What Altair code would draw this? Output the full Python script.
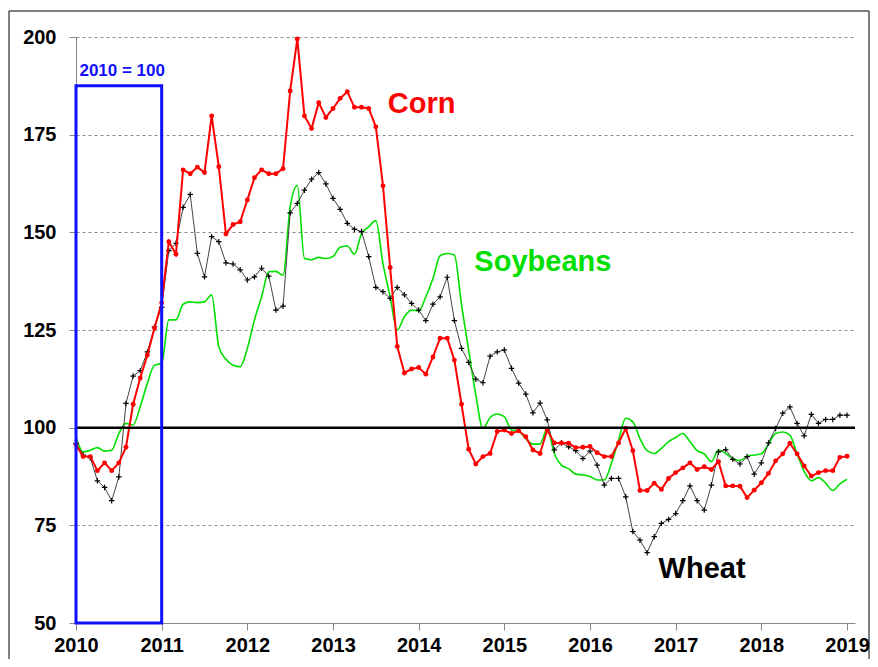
import altair as alt
import pandas as pd

# Monthly index values, Jan 2010 .. Jan 2019 (2010 = 100)
months = [2010 + i / 12 for i in range(109)]

corn = [
    95.6, 92.6, 92.6, 89.0, 91.0, 89.0, 91.0, 95.0, 106.0, 112.7, 118.6, 125.5,
    132.0, 147.6, 144.4, 166.0, 165.0, 166.7, 165.3, 179.8, 166.8, 149.6, 152.0, 152.7,
    158.3, 164.0, 166.0, 165.0, 165.0, 166.3, 186.2, 199.5, 179.8, 176.6, 183.2, 179.4,
    181.7, 184.3, 186.0, 182.0, 182.0, 181.7, 177.0, 161.9, 141.0, 120.8, 114.0, 115.0,
    115.4, 113.7, 118.1, 122.9, 122.9, 117.3, 106.0, 94.5, 90.7, 92.6, 93.4, 99.0,
    99.4, 98.5, 99.2, 97.7, 94.3, 93.4, 99.4, 96.1, 96.1, 96.0, 94.9, 95.0,
    95.2, 93.6, 92.6, 92.6, 96.1, 99.8, 94.1, 83.9, 83.9, 85.8, 84.2, 87.0,
    88.5, 89.7, 91.0, 89.3, 90.0, 89.3, 91.3, 85.1, 85.1, 85.0, 82.1, 84.0,
    85.9, 88.3, 91.5, 93.3, 96.0, 93.3, 90.2, 87.6, 88.5, 89.0, 89.0, 92.4,
    92.7,
]

wheat = [
    96.0, 93.0, 92.3, 86.4, 84.7, 81.3, 87.4, 106.2, 113.2, 114.6, 119.4, 125.8,
    130.8, 145.3, 147.2, 156.4, 159.7, 144.6, 138.6, 148.9, 147.6, 142.2, 141.9, 140.4,
    137.8, 138.6, 140.8, 138.8, 130.1, 131.1, 155.0, 157.4, 160.8, 163.6, 165.3, 162.4,
    158.7, 155.9, 152.3, 150.8, 150.2, 143.8, 135.9, 134.8, 133.1, 135.9, 134.0, 131.8,
    130.1, 127.4, 131.6, 133.5, 138.5, 127.4, 120.3, 116.7, 112.4, 111.5, 118.3, 119.4,
    119.9, 115.2, 111.4, 108.6, 103.8, 106.3, 102.0, 94.3, 96.1, 95.1, 94.1, 92.1,
    94.0, 90.4, 85.3, 87.0, 87.0, 82.3, 73.4, 71.2, 68.0, 72.1, 75.5, 76.5,
    78.0, 81.3, 85.1, 81.3, 78.9, 85.3, 93.8, 94.4, 91.9, 90.7, 92.6, 88.1,
    91.0, 96.1, 99.8, 103.7, 105.3, 101.1, 97.9, 103.4, 101.1, 102.1, 102.1, 103.2,
    103.2,
]

soybeans = [
    97.7, 93.8, 94.2, 94.9, 94.0, 94.2, 98.5, 101.1, 100.7, 105.4, 111.4, 116.0,
    116.5, 127.6, 127.6, 131.6, 132.2, 132.0, 132.2, 134.0, 120.7, 117.5, 116.0, 115.6,
    120.3, 127.6, 133.5, 139.9, 140.0, 139.0, 156.5, 162.0, 143.3, 143.0, 143.6, 143.3,
    143.8, 146.2, 146.5, 144.4, 149.7, 151.4, 153.0, 142.0, 133.5, 125.0, 128.4, 130.1,
    129.9, 133.5, 138.2, 144.0, 144.6, 144.2, 131.4, 119.9, 108.4, 99.8, 102.6, 103.5,
    102.8, 99.4, 99.2, 97.2, 95.8, 95.8, 99.8, 93.4, 90.4, 89.5, 88.1, 87.9,
    87.5, 86.6, 86.6, 90.9, 96.8, 102.4, 101.5, 97.2, 94.1, 93.4, 94.7, 96.4,
    97.5, 98.5, 96.4, 94.1, 93.3, 91.3, 94.3, 93.4, 92.1, 91.6, 92.7, 93.0,
    93.3, 95.8, 98.5, 98.9, 98.1, 93.3, 88.8, 86.4, 87.2, 85.8, 83.9, 85.6,
    86.8,
]

x_ticks = list(range(2010, 2020))
y_ticks = [50, 75, 100, 125, 150, 175, 200]

label_text = ["Corn", "Soybeans", "Wheat"]
label_x = [2013.64, 2014.65, 2016.8]
label_y = [182.8, 142.4, 63.8]
label_color = ["#ff0000", "#00e000", "#000000"]

base_box = {"x0": [2010], "x1": [2011], "y0": [50], "y1": [187.5]}
box_label = {"text": ["2010 = 100"], "x": [2010.04], "y": [189.0]}

df = pd.DataFrame({"t": months, "Corn": corn, "Wheat": wheat, "Soybeans": soybeans})
labels = pd.DataFrame({"text": label_text, "x": label_x, "y": label_y, "c": label_color})

FONT = "Liberation Sans"
XDOM = [2010, 2019.093]

xenc = alt.X(
    "t:Q",
    scale=alt.Scale(domain=XDOM, nice=False, zero=False),
    axis=alt.Axis(values=x_ticks, format="d", grid=False, title=None,
                  domainColor="#888888", tickColor="#888888", tickSize=7,
                  labelFont=FONT, labelFontSize=20, labelFontWeight="bold",
                  labelColor="black", labelPadding=5, labelFlush=False),
)
yscale = alt.Scale(domain=[50, 200], nice=False, zero=False)
yaxis = alt.Axis(values=y_ticks, grid=True, gridDash=[3, 3], gridColor="#8a8a8a",
                 title=None, domainColor="#888888", tickColor="#888888", tickSize=7,
                 labelFont=FONT, labelFontSize=20, labelFontWeight="bold",
                 labelColor="black", labelPadding=13)

base = alt.Chart(df)

soy_line = base.mark_line(color="#00e000", strokeWidth=1.6, interpolate="monotone").encode(
    x=xenc, y=alt.Y("Soybeans:Q", scale=yscale, axis=yaxis))

wheat_line = base.mark_line(color="#444444", strokeWidth=1).encode(
    x=xenc, y=alt.Y("Wheat:Q", scale=yscale, axis=yaxis))
wheat_pts = base.mark_point(shape="M-1,0L1,0M0,-1L0,1", size=30, color="black",
                            strokeWidth=1.2, filled=False, opacity=1).encode(
    x=xenc, y=alt.Y("Wheat:Q", scale=yscale, axis=yaxis))

corn_line = base.mark_line(color="#ff0000", strokeWidth=2).encode(
    x=xenc, y=alt.Y("Corn:Q", scale=yscale, axis=yaxis))
corn_pts = base.mark_circle(size=24, color="#ff0000", opacity=1).encode(
    x=xenc, y=alt.Y("Corn:Q", scale=yscale, axis=yaxis))

hundred = alt.Chart(pd.DataFrame({"v": [100]})).mark_rule(color="black", strokeWidth=2.5).encode(
    y=alt.Y("v:Q", scale=yscale, axis=yaxis))

box = alt.Chart(pd.DataFrame(base_box)).mark_rect(
    fillOpacity=0, stroke="#1010ff", strokeWidth=3).encode(
    x=alt.X("x0:Q", scale=alt.Scale(domain=XDOM, nice=False, zero=False)),
    x2="x1:Q",
    y=alt.Y("y0:Q", scale=yscale),
    y2="y1:Q",
)

box_text = alt.Chart(pd.DataFrame(box_label)).mark_text(
    font=FONT, fontSize=17, fontWeight="bold", color="#1010ff", align="left",
    baseline="bottom").encode(
    x="x:Q", y="y:Q", text="text:N")

series_labels = alt.Chart(labels).mark_text(
    font=FONT, fontSize=29, fontWeight="bold", align="left", baseline="middle").encode(
    x="x:Q", y="y:Q", text="text:N", color=alt.Color("c:N", scale=None))

frame = alt.Chart(pd.DataFrame({"a": [0]})).mark_rect(
    fillOpacity=0, stroke="black", strokeWidth=1).encode(
    x=alt.value(-67), x2=alt.value(793), y=alt.value(-26), y2=alt.value(660))

chart = alt.layer(
    soy_line, wheat_line, wheat_pts, corn_line, corn_pts, hundred, box, box_text,
    series_labels, frame,
).properties(
    width=779, height=586,
    autosize=alt.AutoSizeParams(type="none"),
    padding={"left": 68, "top": 29, "right": 15, "bottom": 36},
    background="white",
).configure_view(stroke=None)

chart.save("out.html", embed_options={"renderer": "svg", "actions": False})
